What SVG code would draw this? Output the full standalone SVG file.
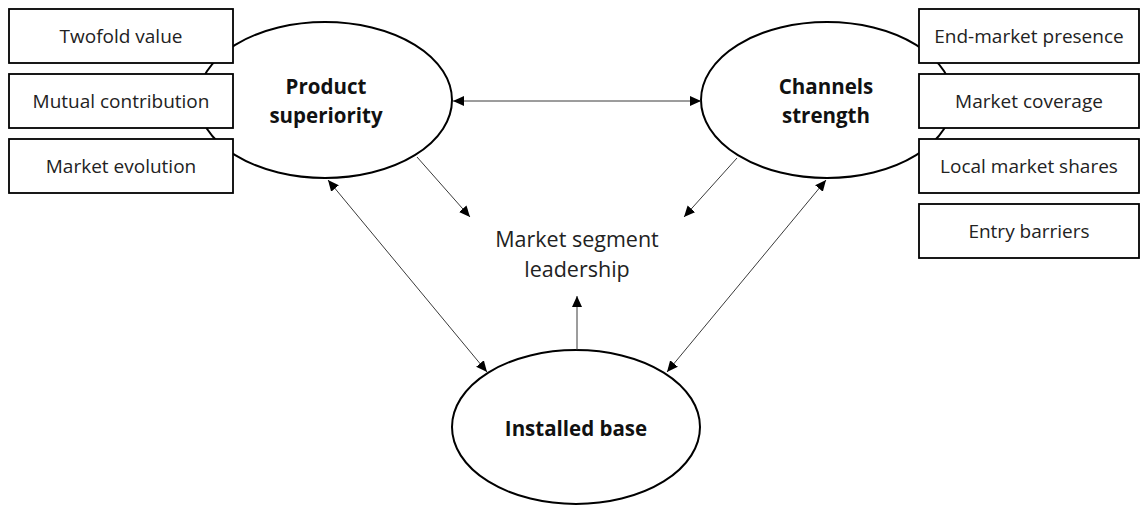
<svg xmlns="http://www.w3.org/2000/svg" width="1142" height="506" viewBox="0 0 1142 506">
  <style>
    .ellipse { fill: #ffffff; stroke: #000000; stroke-width: 2; }
    .box { fill: #ffffff; stroke: #000000; stroke-width: 1.8; }
    .title { font-family: "Open Sans", "Noto Sans", sans-serif; font-weight: bold; font-size: 20.5px; fill: #111111; text-anchor: middle; }
    .label { font-family: "Open Sans", "Noto Sans", sans-serif; font-size: 19px; fill: #222222; text-anchor: middle; }
    .center { font-family: "Open Sans", "Noto Sans", sans-serif; font-size: 21.5px; fill: #222222; text-anchor: middle; }
    .link { stroke: #3a3a3a; stroke-width: 1; fill: none; }
  </style>
  <defs>
    <marker id="arrow" markerUnits="userSpaceOnUse" markerWidth="12" markerHeight="12" viewBox="0 0 12 12" refX="11" refY="6" orient="auto-start-reverse">
      <path d="M0,1 L11,6 L0,11 Z" fill="#000000"/>
    </marker>
  </defs>

  <rect width="1142" height="506" fill="#ffffff"/>

  <!-- main constructs -->
  <g id="product-superiority">
    <ellipse class="ellipse" cx="325" cy="100" rx="127" ry="78"/>
    <text class="title" x="326" y="94">Product</text>
    <text class="title" x="326" y="123">superiority</text>
  </g>

  <g id="channels-strength">
    <ellipse class="ellipse" cx="827" cy="100" rx="126" ry="78"/>
    <text class="title" x="826" y="94">Channels</text>
    <text class="title" x="826" y="123">strength</text>
  </g>

  <g id="installed-base">
    <ellipse class="ellipse" cx="576" cy="427" rx="124" ry="77"/>
    <text class="title" x="576" y="436">Installed base</text>
  </g>

  <g id="market-segment-leadership">
    <text class="center" x="577" y="247">Market segment</text>
    <text class="center" x="577" y="277">leadership</text>
  </g>

  <!-- product superiority attributes -->
  <g id="twofold-value">
    <rect class="box" x="9" y="9" width="224" height="54"/>
    <text class="label" x="121" y="43">Twofold value</text>
  </g>
  <g id="mutual-contribution">
    <rect class="box" x="9" y="74" width="224" height="54"/>
    <text class="label" x="121" y="108">Mutual contribution</text>
  </g>
  <g id="market-evolution">
    <rect class="box" x="9" y="139" width="224" height="54"/>
    <text class="label" x="121" y="173">Market evolution</text>
  </g>

  <!-- channels strength attributes -->
  <g id="end-market-presence">
    <rect class="box" x="919" y="9" width="220" height="54"/>
    <text class="label" x="1029" y="43">End-market presence</text>
  </g>
  <g id="market-coverage">
    <rect class="box" x="919" y="74" width="220" height="54"/>
    <text class="label" x="1029" y="108">Market coverage</text>
  </g>
  <g id="local-market-shares">
    <rect class="box" x="919" y="139" width="220" height="54"/>
    <text class="label" x="1029" y="173">Local market shares</text>
  </g>
  <g id="entry-barriers">
    <rect class="box" x="919" y="204" width="220" height="54"/>
    <text class="label" x="1029" y="238">Entry barriers</text>
  </g>

  <!-- relationships -->
  <g id="connectors">
    <line class="link" x1="453" y1="101" x2="701" y2="101" marker-start="url(#arrow)" marker-end="url(#arrow)"/>
    <line class="link" x1="417" y1="157" x2="470" y2="217" marker-end="url(#arrow)"/>
    <line class="link" x1="737" y1="158" x2="684" y2="217" marker-end="url(#arrow)"/>
    <line class="link" x1="328" y1="180" x2="487" y2="372" marker-start="url(#arrow)" marker-end="url(#arrow)"/>
    <line class="link" x1="826" y1="180" x2="667" y2="372" marker-start="url(#arrow)" marker-end="url(#arrow)"/>
    <line class="link" x1="577" y1="350" x2="577" y2="296" marker-end="url(#arrow)"/>
  </g>
</svg>
